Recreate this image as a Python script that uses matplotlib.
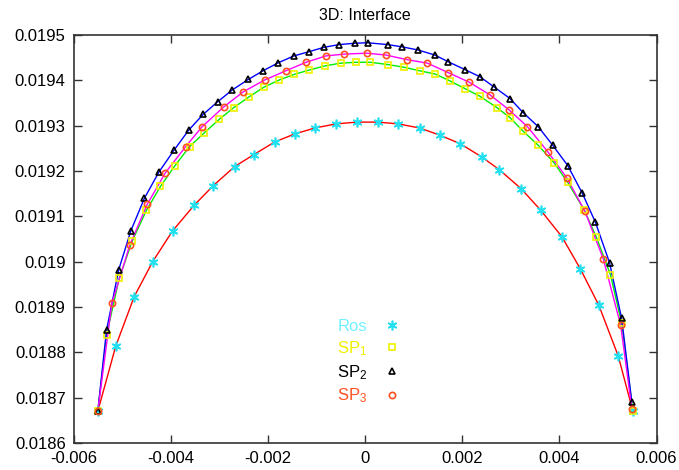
import numpy as np
import matplotlib.pyplot as plt
from matplotlib.lines import Line2D
from matplotlib.ticker import FuncFormatter

plt.rcParams.update({
    "font.family": ["Liberation Sans", "DejaVu Sans"],
    "font.size": 12,
    "mathtext.fontset": "custom",
    "mathtext.rm": "Liberation Sans",
    "mathtext.it": "Liberation Sans",
})

# -----------------------------
#  Data
# -----------------------------
ros_x = [-0.00551, -0.00514, -0.00476, -0.00438, -0.00397, -0.00353, -0.00313,
         -0.00269, -0.00230, -0.00187, -0.00145, -0.00104, -0.00060, -0.00017,
         0.00026, 0.00068, 0.00112, 0.00154, 0.00196, 0.00240, 0.00276, 0.00321,
         0.00361, 0.00405, 0.00443, 0.00481, 0.00521, 0.00551]
ros_y = [0.018670, 0.018814, 0.018923, 0.019000, 0.019068, 0.019124, 0.019168,
         0.019210, 0.019236, 0.019264, 0.019282, 0.019295, 0.019304, 0.019308,
         0.019308, 0.019304, 0.019295, 0.019279, 0.019260, 0.019231, 0.019203,
         0.019161, 0.019114, 0.019055, 0.018984, 0.018904, 0.018792, 0.018671]

sp1_x = [-0.00551, -0.00533, -0.00507, -0.00480, -0.00451, -0.00422, -0.00392,
         -0.00362, -0.00332, -0.00301, -0.00271, -0.00239, -0.00209, -0.00177,
         -0.00147, -0.00115, -0.00083, -0.00051, -0.00019, 0.00010, 0.00046,
         0.00080, 0.00113, 0.00144, 0.00174, 0.00205, 0.00236, 0.00271, 0.00298,
         0.00325, 0.00356, 0.00389, 0.00417, 0.00451, 0.00476, 0.00505, 0.00528,
         0.00551]
sp1_y = [0.018670, 0.018838, 0.018963, 0.019046, 0.019113, 0.019166, 0.019212,
         0.019254, 0.019284, 0.019314, 0.019340, 0.019364, 0.019385, 0.019401,
         0.019413, 0.019423, 0.019432, 0.019438, 0.019440, 0.019440, 0.019435,
         0.019429, 0.019421, 0.019414, 0.019399, 0.019382, 0.019365, 0.019340,
         0.019318, 0.019288, 0.019257, 0.019218, 0.019175, 0.019114, 0.019054,
         0.018971, 0.018865, 0.018671]

sp2_x = [-0.00551, -0.00533, -0.00508, -0.00483, -0.00455, -0.00425, -0.00394,
         -0.00364, -0.00334, -0.00304, -0.00274, -0.00241, -0.00211, -0.00179,
         -0.00147, -0.00117, -0.00085, -0.00054, -0.00021, 0.00005, 0.00046,
         0.00076, 0.00109, 0.00143, 0.00171, 0.00205, 0.00236, 0.00266, 0.00298,
         0.00325, 0.00356, 0.00386, 0.00417, 0.00447, 0.00474, 0.00503, 0.00528,
         0.00549]
sp2_y = [0.018670, 0.018849, 0.018982, 0.019068, 0.019140, 0.019198, 0.019246,
         0.019290, 0.019325, 0.019353, 0.019379, 0.019402, 0.019421, 0.019439,
         0.019454, 0.019463, 0.019473, 0.019479, 0.019482, 0.019483, 0.019479,
         0.019474, 0.019467, 0.019456, 0.019441, 0.019424, 0.019408, 0.019385,
         0.019360, 0.019329, 0.019298, 0.019257, 0.019212, 0.019151, 0.019087,
         0.018998, 0.018875, 0.018690]

sp3_x = [-0.00551, -0.00522, -0.00485, -0.00449, -0.00412, -0.00370, -0.00336,
         -0.00291, -0.00251, -0.00207, -0.00164, -0.00122, -0.00081, -0.00044,
         0.00003, 0.00042, 0.00085, 0.00128, 0.00171, 0.00214, 0.00257, 0.00296,
         0.00334, 0.00377, 0.00415, 0.00452, 0.00490, 0.00526, 0.00549]
sp3_y = [0.018670, 0.018908, 0.019037, 0.019127, 0.019196, 0.019254, 0.019298,
         0.019342, 0.019375, 0.019401, 0.019421, 0.019440, 0.019454, 0.019458,
         0.019460, 0.019456, 0.019446, 0.019438, 0.019417, 0.019396, 0.019368,
         0.019335, 0.019298, 0.019241, 0.019185, 0.019112, 0.019007, 0.018860,
         0.018676]

x_ticks = [-0.006, -0.004, -0.002, 0.0, 0.002, 0.004, 0.006]
y_ticks = [0.0186, 0.0187, 0.0188, 0.0189, 0.019, 0.0191, 0.0192, 0.0193, 0.0194, 0.0195]

# name, x, y, line colour, marker, marker colour, marker size
series = [
    ("Ros", ros_x, ros_y, "#ff0000", (6, 2, 0), "#22e0f0", 7),
    ("SP$_1$", sp1_x, sp1_y, "#00ee00", "s", "#f0f000", 4.5),
    ("SP$_2$", sp2_x, sp2_y, "#0000ff", "^", "#000000", 4.5),
    ("SP$_3$", sp3_x, sp3_y, "#ff00ff", "o", "#ff5020", 4.5),
]
legend_colors = ["#70f0ff", "#f0f000", "#000000", "#ff5020"]

# -----------------------------
#  Plot
# -----------------------------
fig = plt.figure(figsize=(6.79, 4.70), dpi=100)
ax = fig.add_axes([0.109, 0.0574, 0.858, 0.868])

handles = []
for name, xs, ys, lc, mk, mc, ms in series:
    ax.plot(xs, ys, color=lc, lw=1.0, zorder=2)
for name, xs, ys, lc, mk, mc, ms in series:
    ax.plot(xs, ys, ls="none", marker=mk, ms=ms, mfc="none", mec=mc,
            mew=1.2, zorder=3)
    handles.append(Line2D([], [], ls="none", marker=mk, ms=ms, mfc="none",
                          mec=mc, mew=1.2, label=name))

ax.set_xlim(-0.006, 0.006)
ax.set_ylim(0.0186, 0.0195)
ax.set_xticks(x_ticks)
ax.set_yticks(y_ticks)
fmt = FuncFormatter(lambda v, p: "%g" % v)
ax.xaxis.set_major_formatter(fmt)
ax.yaxis.set_major_formatter(fmt)
ax.tick_params(direction="in", length=6, width=1, top=True, right=True,
               labelsize=12, color="#333333")
ax.tick_params(axis="x", pad=6)
ax.tick_params(axis="y", pad=6)
for sp in ax.spines.values():
    sp.set_color("#333333")
    sp.set_linewidth(1.2)

ax.set_title("3D: Interface", fontsize=11.5, pad=11)

leg = ax.legend(handles=handles, loc="center", bbox_to_anchor=(0.507, 0.198),
                frameon=False, markerfirst=False, labelcolor=legend_colors,
                handlelength=1.2, handletextpad=0.9, labelspacing=0.3,
                fontsize=12)

fig.savefig("out.png", dpi=100)
